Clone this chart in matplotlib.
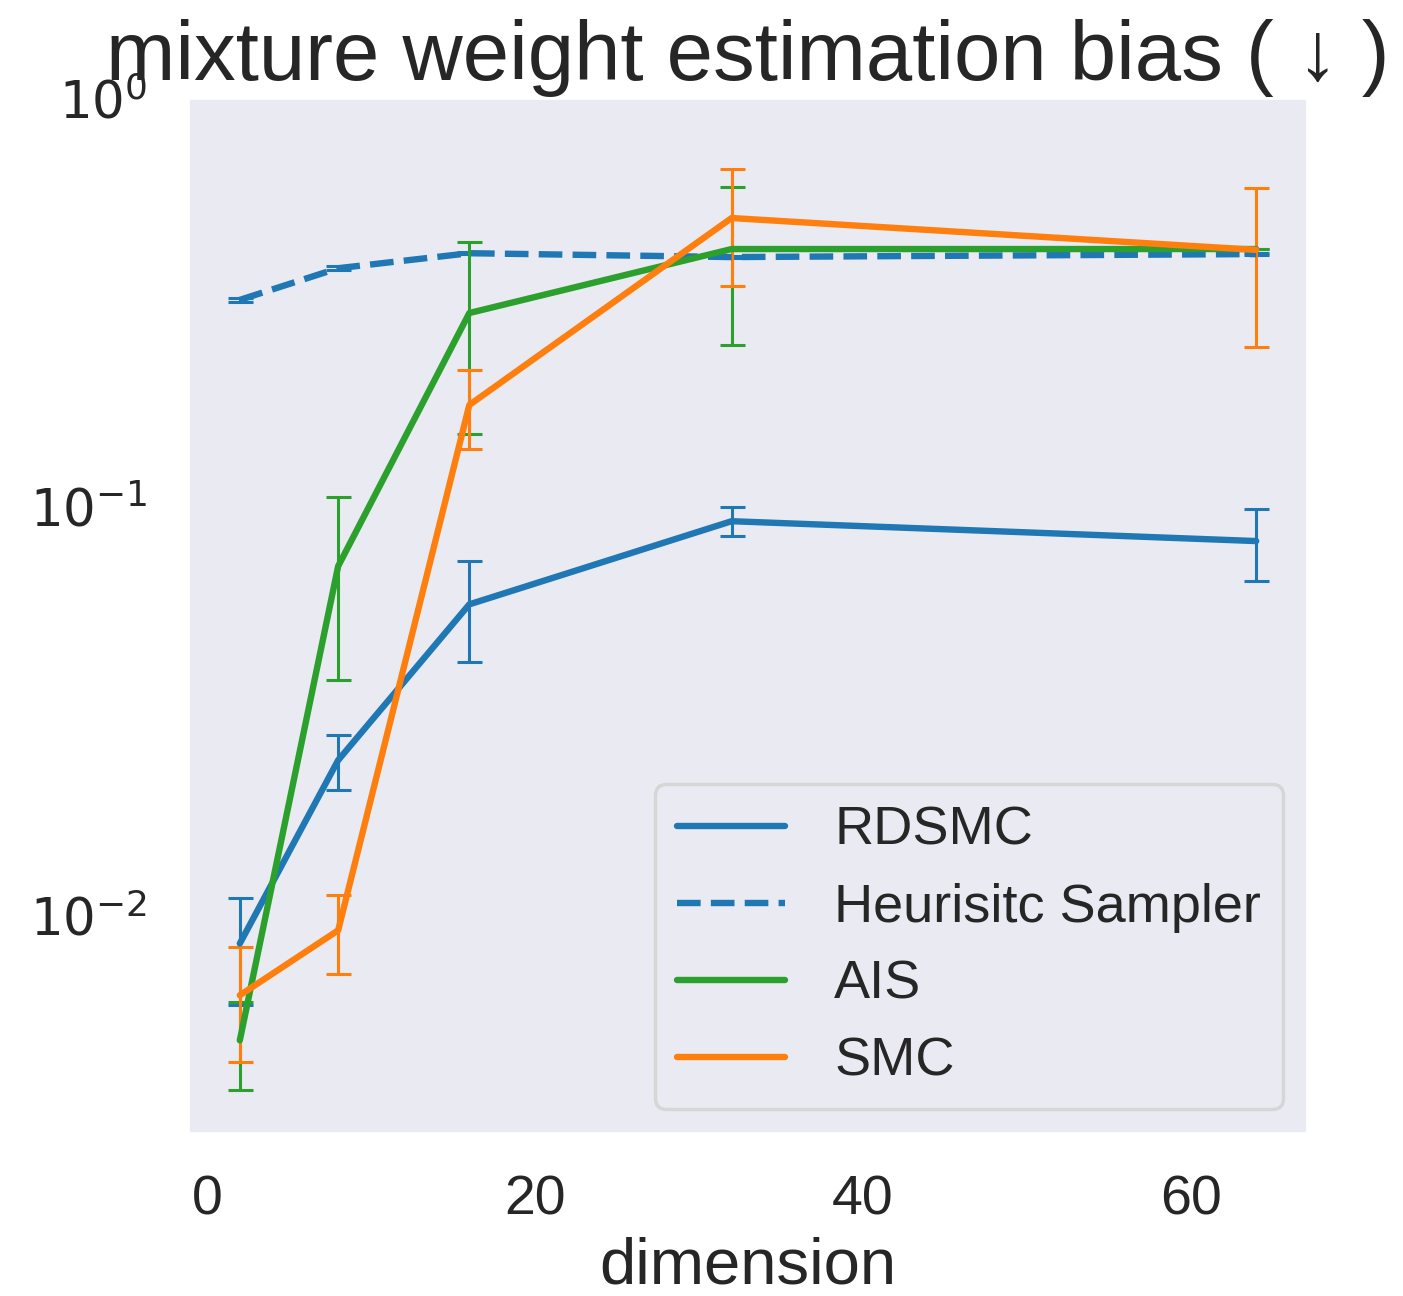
import matplotlib

matplotlib.use("Agg")
import matplotlib.pyplot as plt  # noqa: E402
import seaborn as sns  # noqa: E402
from matplotlib.lines import Line2D  # noqa: E402

sns.set_theme(style="darkgrid")
plt.rcParams["font.family"] = ["Liberation Sans", "DejaVu Sans"]

dims = [2, 8, 16, 32, 64]

rdsmc = [0.00853, 0.0240, 0.0578, 0.0924, 0.0826]
rdsmc_err = [0.0025, 0.0037, 0.0160, 0.0075, 0.0165]

heuristic = [0.322, 0.385, 0.419, 0.410, 0.417]
heuristic_err = [0.004, 0.004, 0.003, 0.003, 0.003]

ais = [0.00494, 0.0717, 0.299, 0.429, 0.429]
ais_err = [0.0012, 0.034, 0.148, 0.180, 0.0]

smc = [0.00637, 0.00919, 0.178, 0.511, 0.427]
smc_err = [0.0020, 0.0020, 0.039, 0.163, 0.180]

labels = ["RDSMC", "Heurisitc Sampler", "AIS", "SMC"]

_BLUE = "#1f77b4"
_ORANGE = "#ff7f0e"
_GREEN = "#2ca02c"

fig = plt.figure(figsize=(14.03, 12.96), dpi=100)
ax = fig.add_axes([0.1347, 0.1258, 0.7969, 0.7978])

kw = dict(lw=4.6, elinewidth=2.2, capsize=9, capthick=2.2)
ax.errorbar(dims, rdsmc, yerr=rdsmc_err, color=_BLUE, **kw)
ax.errorbar(dims, heuristic, yerr=heuristic_err, color=_BLUE, ls="--", **kw)
ax.errorbar(dims, ais, yerr=ais_err, color=_GREEN, **kw)
ax.errorbar(dims, smc, yerr=smc_err, color=_ORANGE, **kw)

ax.set_yscale("log")
ax.set_ylim(0.00293, 1.0)
ax.set_xlim(-1.1, 67.1)
ax.set_xticks([0, 20, 40, 60])
ax.grid(False)
ax.tick_params(axis="x", labelsize=40, pad=24)
ax.tick_params(axis="y", labelsize=37, pad=24)
for lab in ax.get_yticklabels():
    lab.set_fontfamily("DejaVu Sans")
ax.set_xlabel("dimension", fontsize=47, labelpad=7)
ax.set_title("mixture weight estimation bias ( ↓ )", fontsize=60, pad=14)

handles = [
    Line2D([], [], color=_BLUE, lw=4.6),
    Line2D([], [], color=_BLUE, lw=4.6, ls="--"),
    Line2D([], [], color=_GREEN, lw=4.6),
    Line2D([], [], color=_ORANGE, lw=4.6),
]
leg = ax.legend(handles, labels, loc="lower right", fontsize=39, frameon=True,
                borderpad=0.4, labelspacing=0.5, handletextpad=0.9,
                borderaxespad=0.45)
leg.get_frame().set_edgecolor("0.82")
leg.get_frame().set_linewidth(2.5)

fig.savefig("out.png", dpi=100)
plt.close(fig)
